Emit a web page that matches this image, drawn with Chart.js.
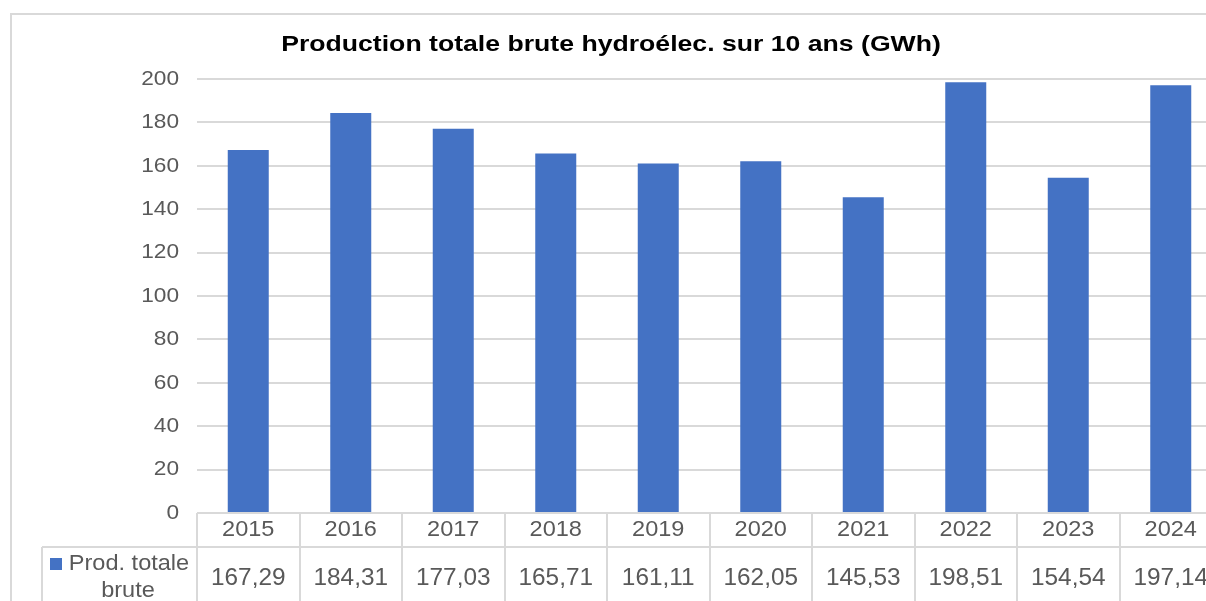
<!DOCTYPE html>
<html>
<head>
<meta charset="utf-8">
<script src="https://cdn.jsdelivr.net/npm/chart.js@4"></script>
<style>
  html, body { margin: 0; padding: 0; background: #fff; overflow: hidden; }
  #frame { position: absolute; left: 10px; top: 13px; width: 1260px; height: 700px; border: 2px solid #d9d9d9; box-sizing: border-box; }
  #wrap { position: absolute; left: 0; top: 0; width: 1222px; height: 640px; }
</style>
</head>
<body>
<div id="frame"></div>
<div id="wrap"><canvas id="myChart"></canvas></div>
<script>
// Chart data
let years = ['2015', '2016', '2017', '2018', '2019', '2020', '2021', '2022', '2023', '2024'];
let prodBrute = [167.29, 184.31, 177.03, 165.71, 161.11, 162.05, 145.53, 198.51, 154.54, 197.14];
let yTicks = [0, 20, 40, 60, 80, 100, 120, 140, 160, 180, 200];
let seriesName = ['Prod. totale', 'brute'];
let titleText = 'Production totale brute hydroélec. sur 10 ans (GWh)';

let barBlue = '#4472c4';
let lineGrey = '#d9d9d9';
let textGrey = '#595959';
let fontName = '"Liberation Sans", Arial, sans-serif';

// the source text is a bit stretched sideways, so draw it with a x scale
function wideText(c, str, x, y, align, sx) {
  c.save();
  c.translate(x, y);
  c.scale(sx, 1);
  c.textAlign = align;
  c.fillText(str, 0, 0);
  c.restore();
}

// title, y labels and the data table under the plot
let dataTable = {
  id: 'dataTable',
  afterDraw(chart) {
    let c = chart.ctx;
    let x = chart.scales.x;
    let y = chart.scales.y;
    let top = chart.chartArea.bottom;
    let row2 = top + 34;
    let end = chart.height;
    let half = (x.getPixelForValue(1) - x.getPixelForValue(0)) / 2;
    let legLeft = 42;
    c.save();
    c.textBaseline = 'middle';

    c.fillStyle = '#000';
    c.font = 'bold 22px ' + fontName;
    wideText(c, titleText, 611, 45, 'center', 1.21);

    c.fillStyle = textGrey;
    c.font = '21px ' + fontName;
    yTicks.forEach(v => wideText(c, String(v), 179, y.getPixelForValue(v), 'right', 1.08));

    c.strokeStyle = lineGrey;
    c.lineWidth = 2;
    c.beginPath();
    c.moveTo(x.left, top); c.lineTo(chart.width, top);
    c.moveTo(legLeft, row2); c.lineTo(chart.width, row2);
    c.moveTo(legLeft, row2); c.lineTo(legLeft, end);
    for (let i = 0; i <= years.length; i++) {
      let px = Math.round(x.getPixelForValue(i) - half);
      c.moveTo(px, top); c.lineTo(px, end);
    }
    c.stroke();

    years.forEach((yr, i) => {
      let px = x.getPixelForValue(i);
      c.font = '22px ' + fontName;
      wideText(c, yr, px, top + 17, 'center', 1.07);
      c.font = '23px ' + fontName;
      wideText(c, prodBrute[i].toFixed(2).replace('.', ','), px, row2 + 32, 'center', 1.06);
    });

    // legend key
    c.fillStyle = barBlue;
    c.fillRect(50, row2 + 11, 12, 12);
    c.fillStyle = textGrey;
    c.font = '22px ' + fontName;
    wideText(c, seriesName[0], 129, row2 + 17, 'center', 1.07);
    wideText(c, seriesName[1], 128, row2 + 44, 'center', 1.07);
    c.restore();
  }
};

var ctx = document.getElementById('myChart').getContext('2d');
var myChart = new Chart(ctx, {
  type: 'bar',
  data: {
    labels: years,
    datasets: [{
      label: seriesName.join(' '),
      data: prodBrute,
      backgroundColor: barBlue,
      categoryPercentage: 1,
      barPercentage: 0.4
    }]
  },
  options: {
    responsive: true,
    maintainAspectRatio: false,
    animation: false,
    layout: { padding: { left: 0, right: 0, top: 79, bottom: 127 } },
    plugins: {
      legend: { display: false },
      tooltip: { enabled: false },
      title: { display: false }
    },
    scales: {
      x: {
        ticks: { display: false },
        grid: { display: false },
        border: { display: false },
        afterFit: (s) => { s.height = 0; }
      },
      y: {
        min: 0,
        max: 200,
        afterBuildTicks: (s) => { s.ticks = yTicks.map(v => ({ value: v })); },
        afterFit: (s) => { s.width = 197; },
        ticks: { display: false },
        grid: { color: lineGrey, lineWidth: 2, drawTicks: false },
        border: { display: false }
      }
    }
  },
  plugins: [dataTable]
});
</script>
</body>
</html>
